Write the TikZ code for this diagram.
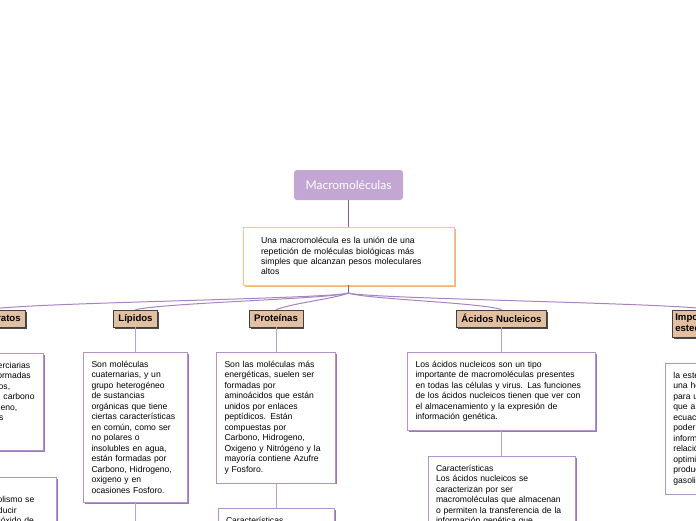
\documentclass[tikz,border=0pt]{standalone}
\usepackage{fontspec}
\setmainfont{Liberation Sans}
\newfontfamily\titlefont{Lato}
\usepackage{tikz}
\usetikzlibrary{shadows, positioning}
\definecolor{titlefill}{HTML}{C3A6D4}
\definecolor{stemline}{HTML}{7F5A9E}
\definecolor{introdraw}{HTML}{F9C48A}
\definecolor{introshade}{HTML}{F6B46E}
\definecolor{topicfill}{HTML}{E3C0A2}
\definecolor{notedraw}{HTML}{B592CC}
\definecolor{noteshade}{HTML}{9E74BE}
\definecolor{branchline}{HTML}{A783C4}
\definecolor{linkline}{HTML}{BE9DD6}

\begin{document}
\hyphenpenalty=10000
\begin{tikzpicture}[x=1pt, y=-1pt,
    title/.style={rounded corners=3pt, fill=titlefill, text=white,
      font=\titlefont\fontsize{12}{14}\selectfont,
      minimum width=109pt, minimum height=30pt, inner sep=0pt},
    intro/.style={draw=introdraw, line width=0.8pt, fill=white,
      drop shadow={shadow xshift=1.6pt, shadow yshift=-1.6pt, fill=introshade, opacity=1},
      align=left, text width=175pt, inner xsep=18pt, inner ysep=10.5pt,
      font=\fontsize{8.7}{10.2}\selectfont},
    topic/.style={draw=black!75, line width=0.6pt, fill=topicfill,
      drop shadow={shadow xshift=1.6pt, shadow yshift=-1.6pt, fill=black!70, opacity=1},
      font=\bfseries\fontsize{9.6}{11}\selectfont,
      minimum height=17pt, inner xsep=5pt, inner ysep=0pt},
    note/.style={draw=notedraw, line width=0.8pt, fill=white,
      drop shadow={shadow xshift=1.5pt, shadow yshift=-1.5pt, fill=noteshade, opacity=1},
      align=left, inner xsep=8pt, inner ysep=8.7pt,
      font=\fontsize{8.6}{10.5}\selectfont},
    branch/.style={draw=branchline, line width=1pt},
    link/.style={draw=linkline, line width=0.8pt},
    stem/.style={draw=stemline, line width=1.2pt}]
  \useasboundingbox (0,0) rectangle (696,520);
  \clip (0,0) rectangle (696,520);

  % centre
  \node[title] (macro) at (348.5,185) {Macromoléculas};
  \node[intro] (intro) at (348.5,256) {Una macromolécula es la unión de una\\repetición de moléculas biológicas más\\simples que alcanzan pesos moleculares\\altos};
  \coordinate (fan) at (348.5,293);

  % carbohidratos
  \node[topic, anchor=east] (carb) at (26,318.5) {Carbohidratos};
  \node[note, text width=100pt, anchor=north east] (carbtxt) at (44,353) {Son moléculas terciarias\\pues están conformadas\\por tres elementos,\\los cuales son el carbono\\oxígeno e hidrógeno,\\también llamados\\hidratos de\\carbono.};
  \node[note, text width=118pt, anchor=north east] (carbcar) at (57,477) {Características\\Durante el metabolismo se\\suele llegar a producir\\energía, agua y dióxido de\\carbono.};

  % lipidos
  \node[topic] (lip) at (135.5,318.5) {Lípidos};
  \node[note, text width=88pt, anchor=north] (liptxt) at (135.5,352) {Son moléculas\\cuaternarias, y un\\grupo heterogéneo\\de sustancias\\orgánicas que tiene\\ciertas características\\en común, como ser\\no polares o\\insolubles en agua,\\están formadas por\\Carbono, Hidrogeno,\\oxigeno y en\\ocasiones Fosforo.};
  \coordinate (lipnext) at (135.5,540);

  % proteinas
  \node[topic] (prot) at (276,318.5) {Proteínas};
  \node[note, text width=103pt, anchor=north] (prottxt) at (276,352) {Son las moléculas más\\energéticas, suelen ser\\formadas por\\aminoácidos que están\\unidos por enlaces\\peptídicos. Están\\compuestas por\\Carbono, Hidrogeno,\\Oxigeno y Nitrógeno y la\\mayoría contiene Azufre\\y Fosforo.};
  \node[note, text width=100pt, anchor=north] (protcar) at (276,508) {Características};

  % acidos nucleicos
  \node[topic] (acid) at (501.5,318.5) {Ácidos Nucleicos};
  \node[note, text width=172pt, anchor=north] (acidtxt) at (501.5,352) {Los ácidos nucleicos son un tipo\\importante de macromoléculas presentes\\en todas las células y virus. Las funciones\\de los ácidos nucleicos tienen que ver con\\el almacenamiento y la expresión de\\información genética.};
  \node[note, text width=131pt, anchor=north] (acidcar) at (501.5,456) {Características\\Los ácidos nucleicos se\\caracterizan por ser\\macromoléculas que almacenan\\o permiten la transferencia de la\\información genética que};

  % importancia
  \node[topic, align=left, minimum height=27pt, inner xsep=3pt, anchor=north west] (imp) at (672,310) {Importancia de la\\estequiometría};
  \node[note, text width=100pt, anchor=north west] (imptxt) at (665,363) {la estequiometría es\\una herramienta\\para una industria\\que a través de\\ecuaciones puede\\poder obtener\\información sobre la\\relación y así\\optimizar la\\producción de\\gasolina.};

  % connectors
  \draw[stem] (macro) -- (intro);
  \draw[stem] (intro) -- (fan);
  \foreach \t/\a/\d in {carb/-20/30, lip/-20/30, prot/-15/18, acid/15/-18, imp/20/-30}
    \draw[branch] (fan) .. controls +(\a,6) and +(\d,-7) .. (\t.north);
  \draw[link] (carb) -- (carbtxt.north -| carb);
  \draw[link] (lip) -- (liptxt);
  \draw[link] (liptxt) -- (lipnext);
  \draw[link] (prot) -- (prottxt);
  \draw[link] (prottxt) -- (protcar);
  \draw[link] (acid) -- (acidtxt);
  \draw[link] (acidtxt) -- (acidcar);
  \draw[link] (imp.south -| imptxt) -- (imptxt);
\end{tikzpicture}
\end{document}
